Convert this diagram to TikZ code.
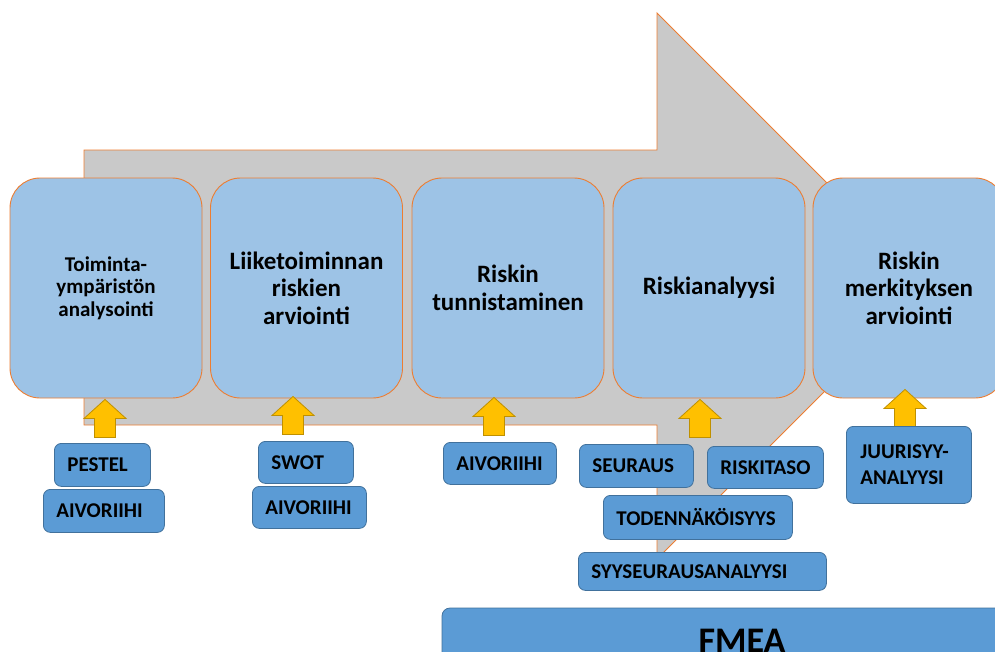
\documentclass[tikz,border=0pt]{standalone}
\usepackage{fontspec}
\setmainfont{Carlito}
\definecolor{bandfill}{HTML}{C9C9C9}
\definecolor{edgeorange}{HTML}{ED7D31}
\definecolor{stagefill}{HTML}{9DC3E6}
\definecolor{toolfill}{HTML}{5B9BD5}
\definecolor{toolline}{HTML}{41719C}
\definecolor{arrowfill}{HTML}{FFC000}
\definecolor{arrowline}{HTML}{BF9000}
\tikzset{
  stage/.style={draw=edgeorange, fill=stagefill, line width=0.9pt,
    rounded corners=30pt, minimum width=192pt, minimum height=220pt,
    inner sep=2pt, align=center, font=\bfseries\fontsize{25}{27.5}\selectfont},
  tool/.style={draw=toolline, fill=toolfill, line width=0.8pt,
    rounded corners=7pt, anchor=north west, inner xsep=13pt, inner ysep=0pt,
    align=left, font=\bfseries\fontsize{21}{26}\selectfont},
  yarrow/.pic={
    \draw[fill=arrowfill, draw=arrowline, line width=0.8pt]
      (0,0) -- (21,19) -- (10.5,19) -- (10.5,38) -- (-10.5,38)
      -- (-10.5,19) -- (-21,19) -- cycle;
  }
}
\begin{document}
\begin{tikzpicture}[x=1pt, y=-1pt]
\useasboundingbox (0,0) rectangle (995,651);
\clip (0,0) rectangle (995,651);

% the broad process arrow behind the stages
\draw[fill=bandfill, draw=edgeorange, line width=0.9pt]
  (84,150) -- (657,150) -- (657,13) -- (930,286) -- (657,559)
  -- (657,425) -- (84,425) -- cycle;

% process stages
\node[stage, font=\bfseries\fontsize{21}{22.5}\selectfont] (s1) at (106,288)
  {Toiminta-\\ympäristön\\analysointi};
\node[stage] (s2) at (306.5,288) {Liiketoiminnan\\riskien\\arviointi};
\node[stage] (s3) at (508,288) {Riskin\\tunnistaminen};
\node[stage] (s4) at (709,288) {Riskianalyysi};
\node[stage] (s5) at (909,288) {Riskin\\merkityksen\\arviointi};

% arrows from the tools up into each stage
\pic at ([shift={(-1,1)}]s1.south) {yarrow};
\pic at ([shift={(-13.5,-2)}]s2.south) {yarrow};
\pic at ([shift={(-14,-1)}]s3.south) {yarrow};
\pic at ([shift={(-9,1)}]s4.south) {yarrow};
\pic at ([shift={(-4,-9)}]s5.south) {yarrow};

% tools
\node[tool, text width=70pt, minimum height=43pt] (pestel) at (54,443) {PESTEL};
\node[tool, text width=95pt, minimum height=43pt] (aivo1) at (43,489) {AIVORIIHI};
\node[tool, text width=69pt, minimum height=42pt] (swot) at (258,441) {SWOT};
\node[tool, text width=88pt, minimum height=42pt] (aivo2) at (252,486) {AIVORIIHI};
\node[tool, text width=87pt, minimum height=42pt] (aivo3) at (443,442) {AIVORIIHI};
\node[tool, text width=88pt, minimum height=43pt] (seuraus) at (579,444) {SEURAUS};
\node[tool, text width=90pt, minimum height=42pt] (taso) at (707,446) {RISKITASO};
\node[tool, text width=163pt, minimum height=44pt] (todnak) at (603,495) {TODENNÄKÖISYYS};
\node[tool, text width=222pt, minimum height=38pt] (syyseur) at (578,552) {SYYSEURAUSANALYYSI};
\node[tool, text width=97pt, minimum height=77pt, inner xsep=14pt] (juuri) at (846,426)
  {JUURISYY-\\ANALYYSI};

% method band along the bottom
\node[draw=toolline, fill=toolfill, line width=0.8pt, rounded corners=8pt,
  minimum width=600pt, minimum height=64.8pt, inner sep=0pt,
  font=\bfseries\fontsize{36}{40}\selectfont] (fmea) at (742,640.4) {FMEA};
\end{tikzpicture}
\end{document}
